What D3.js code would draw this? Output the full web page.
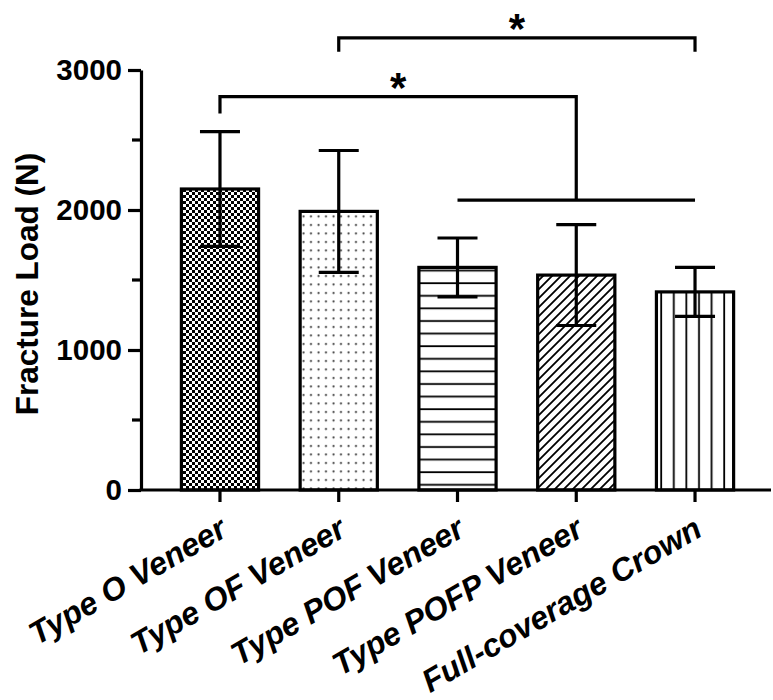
<!DOCTYPE html>
<html>
<head>
<meta charset="utf-8">
<script src="https://cdn.jsdelivr.net/npm/d3@7"></script>
<style>
  body { margin: 0; background: #fff; }
  svg text { font-family: "Liberation Sans", Arial, sans-serif; font-weight: bold; fill: #000; }
</style>
</head>
<body>
<div id="chart"></div>
<script>
// groups and measured values (mean +/- SD)
const groups = ["Type O Veneer", "Type OF Veneer", "Type POF Veneer", "Type POFP Veneer", "Full-coverage Crown"];
const means = [2150, 1990, 1590, 1535, 1415];
const sds = [410, 435, 210, 360, 175];
const patterns = ["checker", "dots", "hlines", "diag", "vlines"];
const yTicks = [0, 1000, 2000, 3000];
const yMinor = [500, 1500, 2500];

// significance brackets (group index, y levels in N)
const brackets = [
  { from: 0, to: 3, y: 2810, legFrom: 2690, legTo: 2070, groupLine: [2, 4] },
  { from: 1, to: 4, y: 3230, legFrom: 3130, legTo: 3130, groupLine: null }
];

const width = 773;
const height = 700;

const svg = d3.select("#chart")
  .append("svg")
  .attr("width", width)
  .attr("height", height);

// fill patterns
const defs = svg.append("defs");

const checker = defs.append("pattern").attr("id", "checker")
  .attr("patternUnits", "userSpaceOnUse").attr("width", 6).attr("height", 6);
checker.append("rect").attr("width", 6).attr("height", 6).attr("fill", "#fff");
checker.append("rect").attr("width", 3).attr("height", 3).attr("fill", "#000");
checker.append("rect").attr("x", 3).attr("y", 3).attr("width", 3).attr("height", 3).attr("fill", "#000");

const dots = defs.append("pattern").attr("id", "dots")
  .attr("patternUnits", "userSpaceOnUse").attr("width", 7.5).attr("height", 8.5);
dots.append("rect").attr("width", 7.5).attr("height", 8.5).attr("fill", "#fff");
dots.append("circle").attr("cx", 3.5).attr("cy", 4).attr("r", 1.1).attr("fill", "#444");

const hlines = defs.append("pattern").attr("id", "hlines")
  .attr("patternUnits", "userSpaceOnUse").attr("width", 12).attr("height", 12.6);
hlines.append("rect").attr("width", 12).attr("height", 12.6).attr("fill", "#fff");
hlines.append("line").attr("x1", 0).attr("x2", 12).attr("y1", 6).attr("y2", 6)
  .attr("stroke", "#000").attr("stroke-width", 1.8);

const diag = defs.append("pattern").attr("id", "diag")
  .attr("patternUnits", "userSpaceOnUse").attr("width", 9).attr("height", 9);
diag.append("rect").attr("width", 9).attr("height", 9).attr("fill", "#fff");
diag.append("path").attr("d", "M-1,10 L10,-1 M-3,3 L3,-3 M6,12 L12,6")
  .attr("stroke", "#000").attr("stroke-width", 1.8);

const vlines = defs.append("pattern").attr("id", "vlines")
  .attr("patternUnits", "userSpaceOnUse").attr("width", 12.6).attr("height", 12);
vlines.append("rect").attr("width", 12.6).attr("height", 12).attr("fill", "#fff");
vlines.append("line").attr("y1", 0).attr("y2", 12).attr("x1", 6).attr("x2", 6)
  .attr("stroke", "#000").attr("stroke-width", 1.8);

// scales
const x = d3.scaleBand()
  .domain(groups)
  .range([160.6, 754.4])
  .paddingInner(0.35)
  .paddingOuter(0.175);

const y = d3.scaleLinear()
  .domain([0, 3000])
  .range([490, 70]);

// bars
svg.selectAll("rect.bar")
  .data(groups)
  .enter().append("rect")
  .attr("class", "bar")
  .attr("x", (d) => x(d))
  .attr("y", (d, i) => y(means[i]))
  .attr("width", x.bandwidth())
  .attr("height", (d, i) => y(0) - y(means[i]))
  .attr("fill", (d, i) => `url(#${patterns[i]})`)
  .attr("stroke", "#000")
  .attr("stroke-width", 3.2);

// error bars
const cx = (i) => x(groups[i]) + x.bandwidth() / 2;
const err = svg.append("g").attr("stroke", "#000").attr("stroke-width", 3.2);
groups.forEach((g, i) => {
  err.append("line").attr("x1", cx(i)).attr("x2", cx(i))
    .attr("y1", y(means[i] - sds[i])).attr("y2", y(means[i] + sds[i]));
  [means[i] - sds[i], means[i] + sds[i]].forEach((v) => {
    err.append("line").attr("x1", cx(i) - 20).attr("x2", cx(i) + 20)
      .attr("y1", y(v)).attr("y2", y(v));
  });
});

// y axis
const yAxis = svg.append("g").attr("transform", "translate(141,0)")
  .call(d3.axisLeft(y).tickValues(yTicks).tickFormat(d3.format("d"))
    .tickSize(13).tickPadding(6).tickSizeOuter(0));
yAxis.attr("font-family", null).attr("font-size", null);
yAxis.select(".domain").attr("stroke-width", 3.2);
yAxis.selectAll(".tick line").attr("stroke-width", 3.2);
yAxis.selectAll(".tick text").attr("font-size", 29.5);

svg.append("g").selectAll("line")
  .data(yMinor)
  .enter().append("line")
  .attr("x1", 132).attr("x2", 141)
  .attr("y1", (d) => y(d)).attr("y2", (d) => y(d))
  .attr("stroke", "#000").attr("stroke-width", 3.2);

svg.append("text")
  .attr("transform", `translate(38,284) rotate(-90)`)
  .attr("text-anchor", "middle")
  .attr("font-size", 31.5)
  .text("Fracture Load (N)");

// x axis
svg.append("line")
  .attr("x1", 139.4).attr("x2", 771)
  .attr("y1", y(0)).attr("y2", y(0))
  .attr("stroke", "#000").attr("stroke-width", 3.2);

const xAxis = svg.append("g").attr("transform", `translate(0,${y(0)})`)
  .call(d3.axisBottom(x).tickSize(12).tickSizeOuter(0));
xAxis.attr("font-family", null).attr("font-size", null);
xAxis.select(".domain").remove();
xAxis.selectAll(".tick line").attr("stroke-width", 3.2);
xAxis.selectAll(".tick text")
  .attr("font-size", 32)
  .attr("font-style", "italic")
  .attr("text-anchor", "end")
  .attr("transform", "translate(9,45) rotate(-30)")
  .attr("dy", 0)
  .attr("y", 0);

// significance brackets
const sig = svg.append("g").attr("fill", "none").attr("stroke", "#000").attr("stroke-width", 3.2);
brackets.forEach((b) => {
  sig.append("path").attr("d",
    `M${cx(b.from)},${y(b.legFrom)} V${y(b.y)} H${cx(b.to)} V${y(b.legTo)}`);
  if (b.groupLine) {
    sig.append("line")
      .attr("x1", cx(b.groupLine[0])).attr("x2", cx(b.groupLine[1]))
      .attr("y1", y(b.legTo)).attr("y2", y(b.legTo));
  }
  svg.append("text")
    .attr("x", (cx(b.from) + cx(b.to)) / 2)
    .attr("y", y(b.y) + 5)
    .attr("text-anchor", "middle")
    .attr("font-size", 42)
    .text("*");
});
</script>
</body>
</html>
